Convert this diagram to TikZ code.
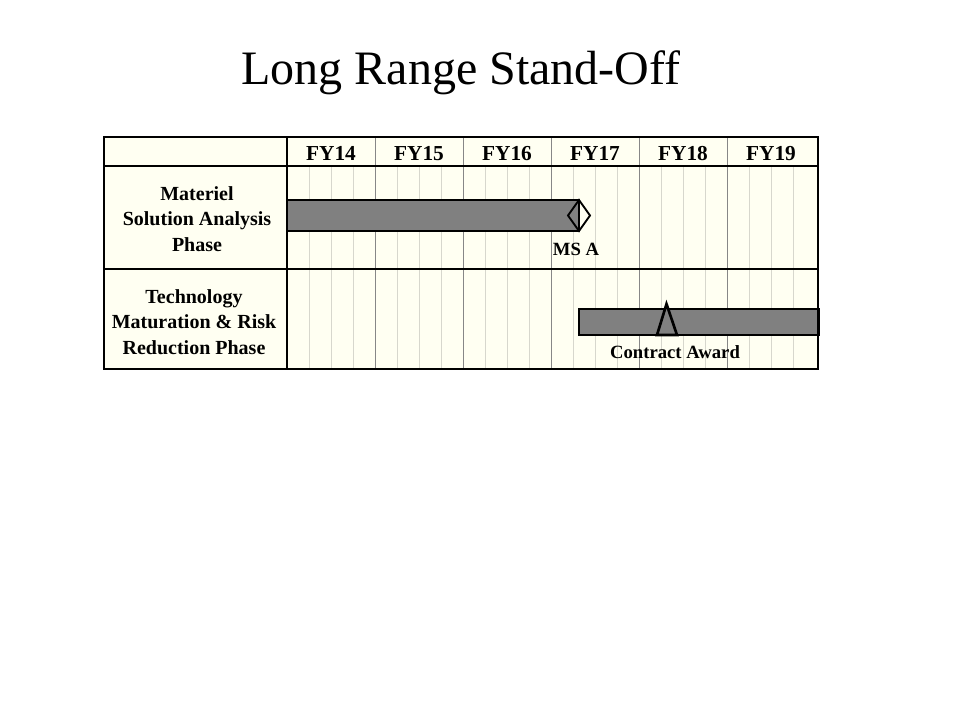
\documentclass[tikz,border=0pt]{standalone}
\usepackage{fontspec}
\setmainfont{Liberation Serif}
\definecolor{chartbg}{RGB}{255,255,242}
\definecolor{bargray}{RGB}{128,128,128}
\definecolor{qline}{RGB}{215,215,205}
\definecolor{yline}{RGB}{135,135,135}
\tikzset{
  frame/.style={line width=2.2pt},
  phase/.style={align=center,font=\fontsize{15}{19}\selectfont\bfseries},
  year/.style={anchor=base,font=\fontsize{16}{19}\selectfont\bfseries},
  milestone/.style={font=\fontsize{14}{16}\selectfont\bfseries},
  taskbar/.style={draw=black,line width=1.4pt,fill=bargray},
}
\begin{document}
\begin{tikzpicture}[x=0.75pt,y=-0.75pt]
  \useasboundingbox[fill=white] (0,0) rectangle (960,720);
  \node[anchor=base] (title) at (461,85) {\fontsize{36}{40}\selectfont Long Range Stand-Off};
  \fill[chartbg] (104,137) rectangle (818,369);
  % quarters
  \foreach \q in {1,...,23}
    \draw[qline] ({287+22*\q},166) -- ({287+22*\q},369);
  % years
  \foreach \y [count=\i from 0] in {14,...,19} {
    \draw[yline] ({287+88*\i},137) -- ({287+88*\i},369);
    \node[year] (fy\y) at ({331+88*\i},161) {FY\y};
  }
  \node[phase] (msa) at (197,219) {Materiel\\Solution Analysis\\Phase};
  \node[phase] (tmrr) at (194,322) {Technology\\Maturation \& Risk\\Reduction Phase};
  % bars
  \draw[taskbar] (287,200) rectangle (579,231);
  \draw[line width=1.4pt] (568,215.5) -- (579,200) -- (590,215.5) -- (579,231) -- cycle
    (579,200) -- (579,231);
  \node[milestone] (msalabel) at (576,249) {MS A};
  \draw[taskbar] (579,309) rectangle (819,335);
  \draw[line width=2pt,fill=bargray,line join=miter] (657,335) -- (666.5,304) -- (677,335) -- cycle;
  \node[milestone] (awardlabel) at (675,352) {Contract Award};
  % frame
  \draw[frame] (104,137) rectangle (818,369);
  \draw[frame] (104,166) -- (818,166) (104,269) -- (818,269) (287,137) -- (287,369);
\end{tikzpicture}
\end{document}
